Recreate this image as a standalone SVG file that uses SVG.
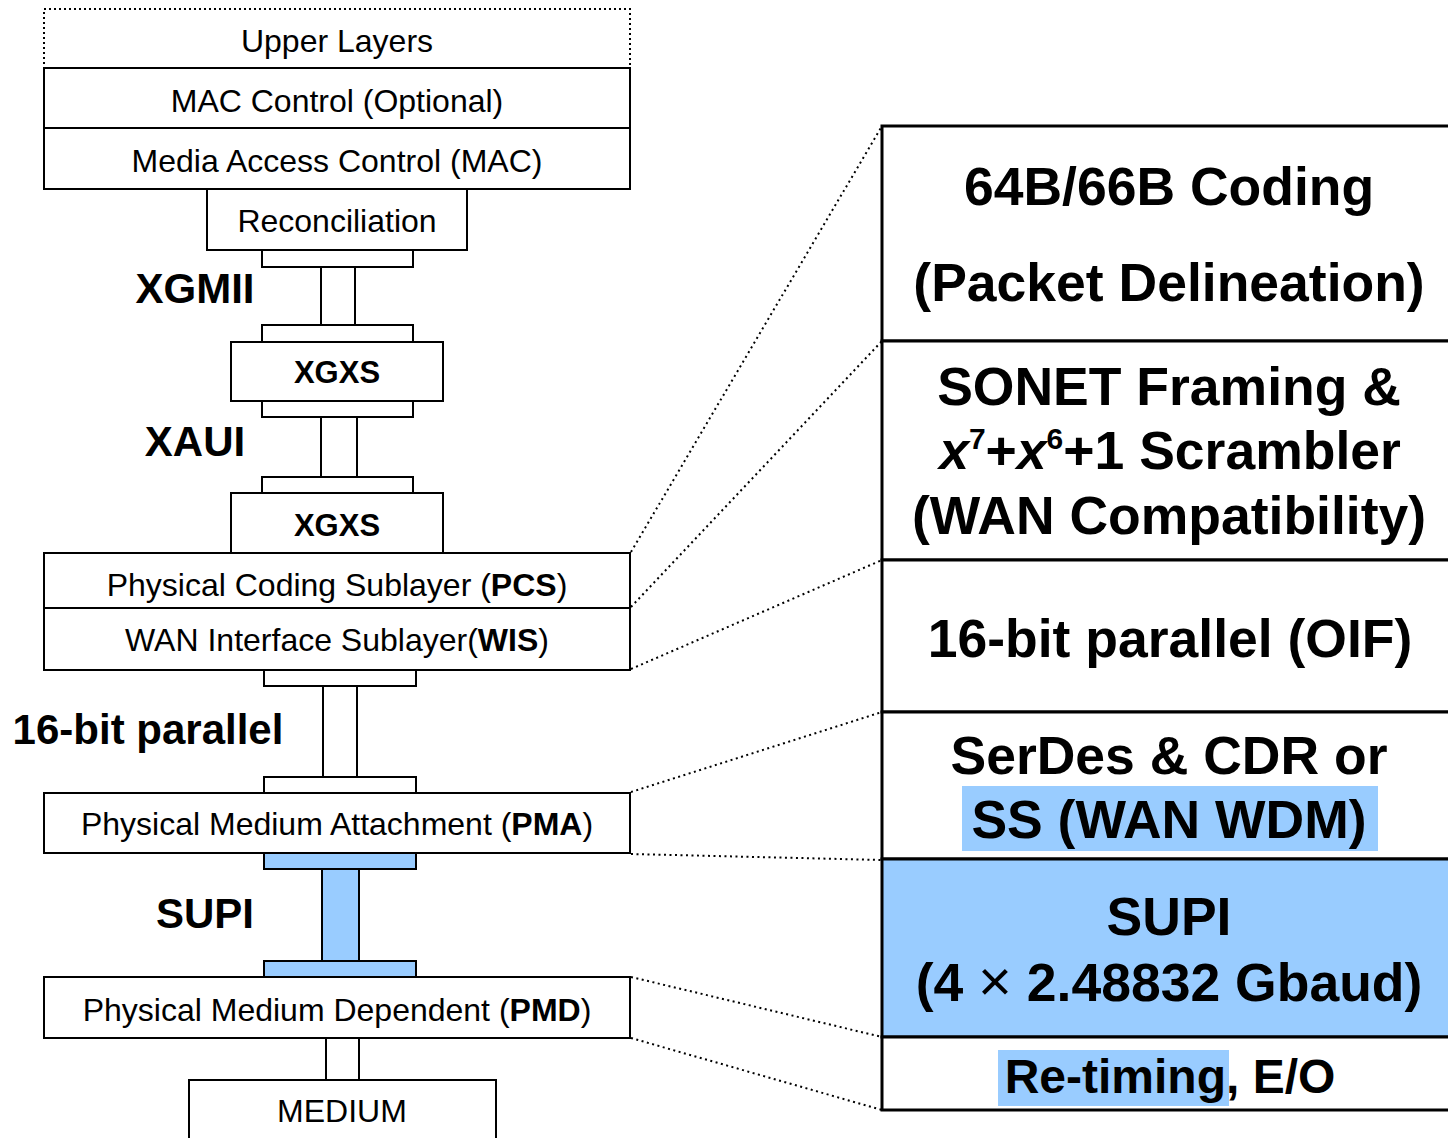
<svg xmlns="http://www.w3.org/2000/svg" width="1448" height="1138" viewBox="0 0 1448 1138">
  <style>
    .box { fill: #ffffff; stroke: #000000; stroke-width: 2; }
    .blue { fill: #99ccff; stroke: #000000; stroke-width: 2; }
    .rbox { fill: #ffffff; stroke: #000000; stroke-width: 3; }
    .rblue { fill: #99ccff; stroke: #000000; stroke-width: 3; }
    .hl { fill: #99ccff; stroke: none; }
    .dot { fill: none; stroke: #000000; stroke-width: 2; stroke-dasharray: 2 3.5; }
    .t { font-family: "Liberation Sans", Arial, sans-serif; font-size: 32px; fill: #000000; text-anchor: middle; }
    .tb { font-family: "Liberation Sans", Arial, sans-serif; font-size: 31px; font-weight: bold; fill: #000000; text-anchor: middle; }
    .lbl { font-family: "Liberation Sans", Arial, sans-serif; font-size: 42px; font-weight: bold; fill: #000000; text-anchor: middle; }
    .big { font-family: "Liberation Sans", Arial, sans-serif; font-size: 53.5px; font-weight: bold; fill: #000000; text-anchor: middle; }
  </style>

  <!-- Left protocol stack -->
  <g id="upper-layers">
    <rect x="44" y="9" width="586" height="59" fill="#ffffff" stroke="#000000" stroke-width="2" stroke-dasharray="2 3"/>
    <text class="t" x="337" y="52">Upper Layers</text>
  </g>
  <g id="mac-control">
    <rect class="box" x="44" y="68" width="586" height="60"/>
    <text class="t" x="337" y="112">MAC Control (Optional)</text>
  </g>
  <g id="mac">
    <rect class="box" x="44" y="128" width="586" height="61"/>
    <text class="t" x="337" y="172">Media Access Control (MAC)</text>
  </g>
  <g id="reconciliation">
    <rect class="box" x="207" y="189" width="260" height="61"/>
    <text class="t" x="337" y="232">Reconciliation</text>
  </g>
  <g id="xgxs-top">
    <rect class="box" x="231" y="342" width="212" height="59"/>
    <text class="tb" x="337" y="383">XGXS</text>
  </g>
  <g id="xgxs-bottom">
    <rect class="box" x="231" y="493" width="212" height="60"/>
    <text class="tb" x="337" y="536">XGXS</text>
  </g>
  <g id="pcs">
    <rect class="box" x="44" y="553" width="586" height="55"/>
    <text class="t" x="337" y="596">Physical Coding Sublayer (<tspan font-weight="bold">PCS</tspan>)</text>
  </g>
  <g id="wis">
    <rect class="box" x="44" y="608" width="586" height="62"/>
    <text class="t" x="337" y="651">WAN Interface Sublayer(<tspan font-weight="bold">WIS</tspan>)</text>
  </g>
  <g id="pma">
    <rect class="box" x="44" y="793" width="586" height="60"/>
    <text class="t" x="337" y="835">Physical Medium Attachment (<tspan font-weight="bold">PMA</tspan>)</text>
  </g>
  <g id="pmd">
    <rect class="box" x="44" y="977" width="586" height="61"/>
    <text class="t" x="337" y="1021">Physical Medium Dependent (<tspan font-weight="bold">PMD</tspan>)</text>
  </g>
  <g id="medium">
    <rect class="box" x="189" y="1080" width="307" height="70"/>
    <text class="t" x="342" y="1122">MEDIUM</text>
  </g>

  <!-- Interfaces between sublayers -->
  <g id="connectors">
    <!-- XGMII -->
    <rect class="box" x="262" y="250" width="151" height="17"/>
    <rect class="box" x="321" y="267" width="34" height="58"/>
    <rect class="box" x="262" y="325" width="151" height="17"/>
    <!-- XAUI -->
    <rect class="box" x="262" y="401" width="151" height="16"/>
    <rect class="box" x="321" y="417" width="36" height="60"/>
    <rect class="box" x="262" y="477" width="151" height="16"/>
    <!-- 16-bit parallel -->
    <rect class="box" x="264" y="670" width="152" height="16"/>
    <rect class="box" x="323" y="686" width="34" height="91"/>
    <rect class="box" x="264" y="777" width="152" height="16"/>
    <!-- SUPI -->
    <rect class="blue" x="264" y="853" width="152" height="16"/>
    <rect class="blue" x="322" y="869" width="37" height="92"/>
    <rect class="blue" x="264" y="961" width="152" height="16"/>
    <!-- PMD to medium -->
    <line x1="326" y1="1038" x2="326" y2="1080" stroke="#000000" stroke-width="2"/>
    <line x1="359" y1="1038" x2="359" y2="1080" stroke="#000000" stroke-width="2"/>

    <!-- Dotted expansion lines to the detail column -->
    <line class="dot" x1="631" y1="552" x2="882" y2="126"/>
    <line class="dot" x1="631" y1="607" x2="882" y2="341"/>
    <line class="dot" x1="631" y1="669" x2="882" y2="560"/>
    <line class="dot" x1="631" y1="792" x2="882" y2="712"/>
    <line class="dot" x1="631" y1="854" x2="882" y2="860"/>
    <line class="dot" x1="631" y1="977" x2="882" y2="1037"/>
    <line class="dot" x1="631" y1="1038" x2="882" y2="1110"/>
  </g>

  <!-- Interface labels -->
  <g id="interface-labels">
    <text class="lbl" x="195" y="303">XGMII</text>
    <text class="lbl" x="195" y="456">XAUI</text>
    <text class="lbl" x="148" y="744">16-bit parallel</text>
    <text class="lbl" x="205" y="928">SUPI</text>
  </g>

  <!-- Detail column -->
  <g id="coding">
    <rect class="rbox" x="882" y="126" width="580" height="215"/>
    <text class="big" x="1169" y="205">64B/66B Coding</text>
    <text class="big" x="1169" y="301">(Packet Delineation)</text>
  </g>
  <g id="sonet">
    <rect class="rbox" x="882" y="341" width="580" height="219"/>
    <text class="big" x="1169" y="405">SONET Framing &amp;</text>
    <text class="big" x="1170" y="469"><tspan font-style="italic">x</tspan><tspan font-size="30" dy="-20">7</tspan><tspan dy="20">+</tspan><tspan font-style="italic">x</tspan><tspan font-size="30" dy="-20">6</tspan><tspan dy="20">+1 Scrambler</tspan></text>
    <text class="big" x="1169" y="534">(WAN Compatibility)</text>
  </g>
  <g id="oif">
    <rect class="rbox" x="882" y="560" width="580" height="152"/>
    <text class="big" x="1170" y="657">16-bit parallel (OIF)</text>
  </g>
  <g id="serdes">
    <rect class="rbox" x="882" y="712" width="580" height="147"/>
    <rect class="hl" x="962" y="786" width="416" height="65"/>
    <text class="big" x="1169" y="774">SerDes &amp; CDR or</text>
    <text class="big" x="1169" y="838">SS (WAN WDM)</text>
  </g>
  <g id="supi">
    <rect class="rblue" x="882" y="859" width="580" height="178"/>
    <text class="big" x="1169" y="935">SUPI</text>
    <text class="big" x="1169" y="1001">(4 <tspan font-weight="normal" font-size="58">×</tspan> 2.48832 Gbaud)</text>
  </g>
  <g id="retiming">
    <rect class="rbox" x="882" y="1037" width="580" height="73"/>
    <rect class="hl" x="998" y="1050" width="231" height="56"/>
    <text class="big" x="1170" y="1093" style="font-size:48px">Re-timing, E/O</text>
  </g>
</svg>
